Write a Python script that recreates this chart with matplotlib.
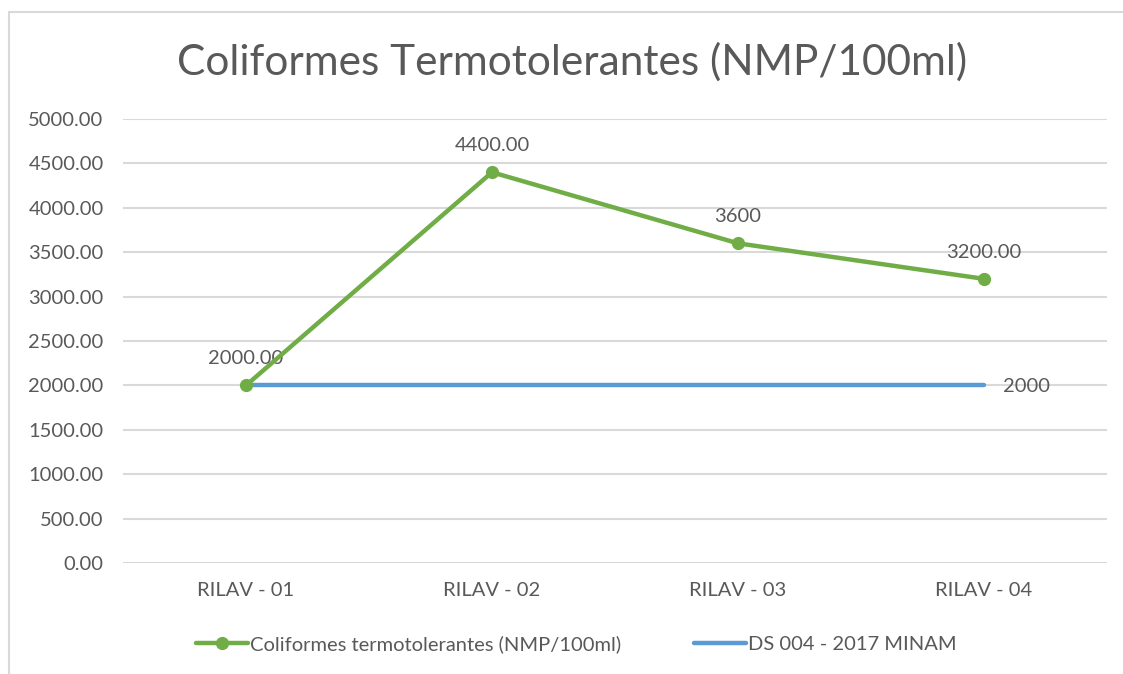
import matplotlib.pyplot as plt
from matplotlib.patches import Rectangle

plt.rcParams['font.family'] = ['Lato', 'DejaVu Sans']

stations = ['RILAV - 01', 'RILAV - 02', 'RILAV - 03', 'RILAV - 04']
coliformes = [2000, 4400, 3600, 3200]
label_decimals = [2, 2, 0, 2]
limite = [2000, 2000, 2000, 2000]
yticks = [0, 500, 1000, 1500, 2000, 2500, 3000, 3500, 4000, 4500, 5000]

green = '#70AD47'
blue = '#5B9BD5'
txt = '#595959'
grid = '#D9D9D9'
fs = 14.5

fig = plt.figure(figsize=(11.23, 6.74), dpi=100)
ax = fig.add_axes([123 / 1123, 1 - 563 / 674, (1107 - 123) / 1123, (563 - 119) / 674])

x = list(range(len(stations)))
ax.plot(x, limite, color=blue, lw=3.2, solid_capstyle='round',
        label='DS 004 - 2017 MINAM', zorder=3)
ax.plot(x, coliformes, color=green, lw=3.2, marker='o', ms=8.5,
        solid_capstyle='round', label='Coliformes termotolerantes (NMP/100ml)', zorder=4)

for xi, v, d in zip(x, coliformes, label_decimals):
    ax.annotate(f'{v:.{d}f}', (xi, v), xytext=(0, 13), textcoords='offset points',
                ha='center', va='bottom', fontsize=fs, color=txt)
ax.annotate(f'{limite[-1]}', (x[-1], limite[-1]), xytext=(14, -1), textcoords='offset points',
            ha='left', va='center', fontsize=fs, color=txt)

ax.set_xlim(-0.5, len(stations) - 0.5)
ax.set_ylim(0, 5000)
ax.set_yticks(yticks)
ax.set_yticklabels([f'{t:.2f}' for t in yticks])
ax.set_xticks(x)
ax.set_xticklabels(stations)
ax.tick_params(axis='both', length=0, labelsize=fs, labelcolor=txt)
ax.tick_params(axis='y', pad=14)
ax.tick_params(axis='x', pad=14)
ax.grid(axis='y', color=grid, lw=1.5)
ax.set_axisbelow(True)
for s in ax.spines.values():
    s.set_visible(False)

fig.text(572 / 1123, 1 - 62 / 674, 'Coliformes Termotolerantes (NMP/100ml)',
         ha='center', va='center', fontsize=30.5, color=txt)

handles, labels = ax.get_legend_handles_labels()
fig.legend(handles[::-1], labels[::-1], loc='center', bbox_to_anchor=(576 / 1123, 1 - 644 / 674),
           ncol=2, frameon=False, fontsize=fs, labelcolor=txt, handlelength=2.6,
           handletextpad=0.1, columnspacing=3.6)

fig.patches.append(Rectangle((9 / 1123, -0.05), 1.1, 1 - 12 / 674 + 0.05, transform=fig.transFigure,
                             fill=False, ec=grid, lw=1.5))

fig.savefig('out.png', dpi=100, facecolor='white')
